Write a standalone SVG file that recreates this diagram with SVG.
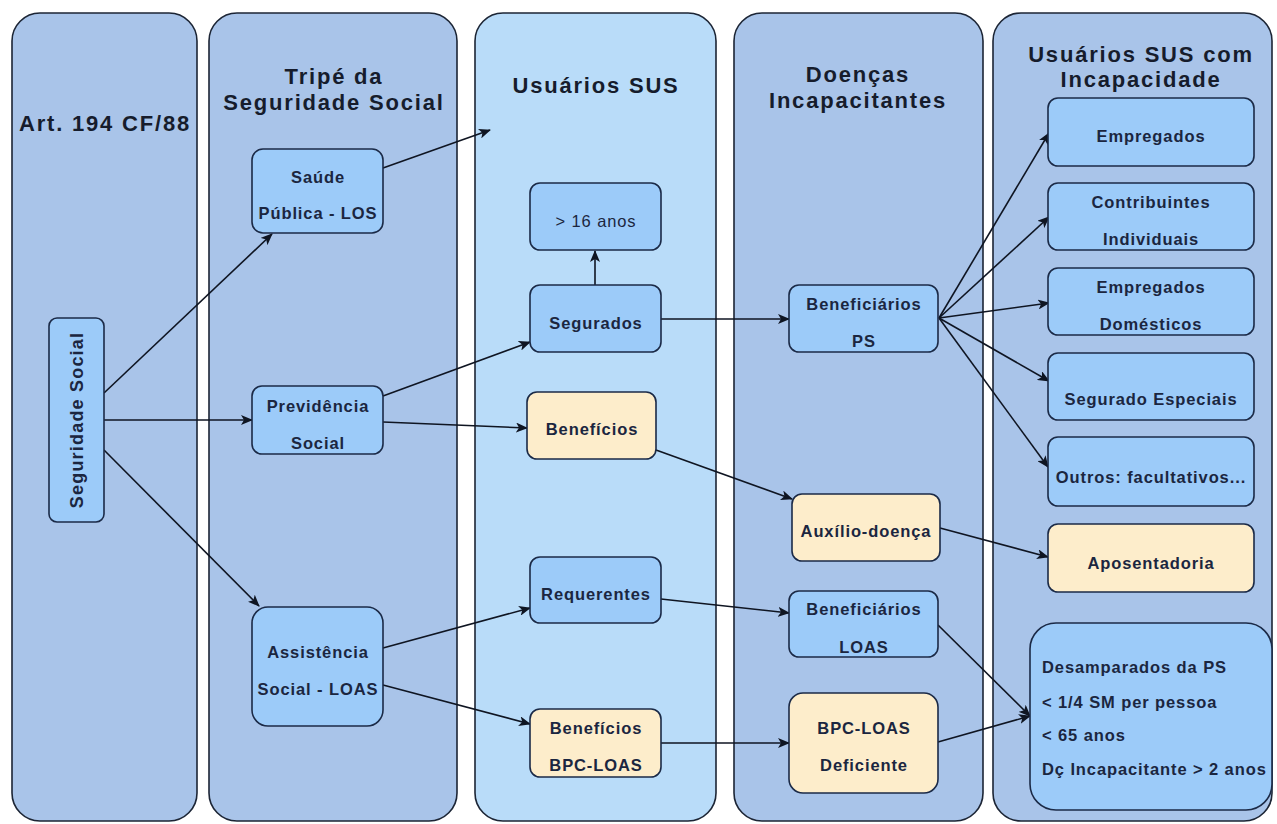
<svg xmlns="http://www.w3.org/2000/svg" width="1277" height="824" viewBox="0 0 1277 824">
<defs>
<marker id="arr" markerUnits="userSpaceOnUse" markerWidth="12" markerHeight="10" viewBox="0 0 12 10" refX="11" refY="5" orient="auto">
<path d="M0,0 L12,5 L0,10 L3,5 z" fill="#0f1522"/>
</marker>
<style>
.lane{fill:#a9c4e9;stroke:#1c2535;stroke-width:1.6}
.lane3{fill:#b9dcf9;stroke:#1c2535;stroke-width:1.6}
.title{font-family:"Liberation Sans",Arial,sans-serif;font-weight:bold;font-size:22px;letter-spacing:1.8px;fill:#161c2c;text-anchor:middle}
.nb{fill:#9ccbf9;stroke:#1b2a47;stroke-width:1.6}
.ny{fill:#fdedcb;stroke:#1b2a47;stroke-width:1.6}
.t{font-family:"Liberation Sans",Arial,sans-serif;font-weight:bold;font-size:16.5px;letter-spacing:0.9px;fill:#1b2640;text-anchor:middle}
.tn{font-weight:normal}
.tl{text-anchor:start}
.c{fill:none;stroke:#0f1522;stroke-width:1.6;marker-end:url(#arr)}
</style>
</defs>
<rect width="1277" height="824" fill="#ffffff"/>

<g id="lane-art194">
<rect class="lane" x="12" y="13" width="185" height="808" rx="28"/>
<text class="title" x="105" y="131">Art. 194 CF/88</text>
</g>
<g id="lane-tripe">
<rect class="lane" x="209" y="13" width="248" height="808" rx="28"/>
<text class="title" x="334" y="84">Tripé da</text>
<text class="title" x="334" y="110">Seguridade Social</text>
</g>
<g id="lane-usuarios">
<rect class="lane3" x="475" y="13" width="241" height="808" rx="28"/>
<text class="title" x="596" y="93">Usuários SUS</text>
</g>
<g id="lane-doencas">
<rect class="lane" x="734" y="13" width="249" height="808" rx="28"/>
<text class="title" x="858" y="82">Doenças</text>
<text class="title" x="858" y="108">Incapacitantes</text>
</g>
<g id="lane-incapacidade">
<rect class="lane" x="993" y="13" width="279" height="808" rx="28"/>
<text class="title" x="1141" y="62">Usuários SUS com</text>
<text class="title" x="1141" y="87">Incapacidade</text>
</g>

<g id="connectors">
<line class="c" x1="104" y1="393" x2="272" y2="234"/>
<line class="c" x1="104" y1="420" x2="252" y2="420"/>
<line class="c" x1="104" y1="450" x2="259" y2="606"/>
<line class="c" x1="383" y1="168" x2="490" y2="130"/>
<line class="c" x1="383" y1="396" x2="530" y2="342"/>
<line class="c" x1="383" y1="422" x2="527" y2="428"/>
<line class="c" x1="595" y1="285" x2="595" y2="251"/>
<line class="c" x1="661" y1="319" x2="789" y2="319"/>
<line class="c" x1="656" y1="450" x2="792" y2="499"/>
<line class="c" x1="940" y1="528" x2="1048" y2="557"/>
<line class="c" x1="383" y1="648" x2="530" y2="608"/>
<line class="c" x1="383" y1="685" x2="530" y2="724"/>
<line class="c" x1="661" y1="599" x2="789" y2="613"/>
<line class="c" x1="661" y1="743" x2="789" y2="743"/>
<line class="c" x1="938" y1="625" x2="1030" y2="716"/>
<line class="c" x1="938" y1="742" x2="1030" y2="716"/>
<line class="c" x1="939" y1="318" x2="1049" y2="133"/>
<line class="c" x1="939" y1="318" x2="1049" y2="217"/>
<line class="c" x1="939" y1="318" x2="1049" y2="303"/>
<line class="c" x1="939" y1="318" x2="1049" y2="381"/>
<line class="c" x1="939" y1="318" x2="1048" y2="467"/>
</g>

<g id="n-seguridade">
<rect class="nb" x="49" y="318" width="55" height="204" rx="8"/>
<text class="t" transform="translate(77,420) rotate(-90)" x="0" y="6" style="font-size:18px;letter-spacing:1.2px">Seguridade Social</text>
</g>
<g id="n-saude">
<rect class="nb" x="252" y="149" width="131" height="84" rx="11"/>
<text class="t" x="318" y="183">Saúde</text>
<text class="t" x="318" y="219">Pública - LOS</text>
</g>
<g id="n-previdencia">
<rect class="nb" x="252" y="386" width="131" height="68" rx="10"/>
<text class="t" x="318" y="412">Previdência</text>
<text class="t" x="318" y="449">Social</text>
</g>
<g id="n-assistencia">
<rect class="nb" x="252" y="607" width="131" height="119" rx="16"/>
<text class="t" x="318" y="658">Assistência</text>
<text class="t" x="318" y="695">Social - LOAS</text>
</g>
<g id="n-16anos">
<rect class="nb" x="530" y="183" width="131" height="67" rx="10"/>
<text class="t tn" x="596" y="227">&gt; 16 anos</text>
</g>
<g id="n-segurados">
<rect class="nb" x="530" y="285" width="131" height="67" rx="10"/>
<text class="t" x="596" y="329">Segurados</text>
</g>
<g id="n-beneficios">
<rect class="ny" x="527" y="392" width="129" height="67" rx="10"/>
<text class="t" x="592" y="435">Benefícios</text>
</g>
<g id="n-requerentes">
<rect class="nb" x="530" y="557" width="131" height="66" rx="10"/>
<text class="t" x="596" y="600">Requerentes</text>
</g>
<g id="n-beneficios-bpc">
<rect class="ny" x="530" y="709" width="131" height="68" rx="10"/>
<text class="t" x="596" y="734">Benefícios</text>
<text class="t" x="596" y="771">BPC-LOAS</text>
</g>
<g id="n-benef-ps">
<rect class="nb" x="789" y="285" width="149" height="67" rx="10"/>
<text class="t" x="864" y="310">Beneficiários</text>
<text class="t" x="864" y="347">PS</text>
</g>
<g id="n-auxilio">
<rect class="ny" x="792" y="494" width="148" height="67" rx="10"/>
<text class="t" x="866" y="537">Auxílio-doença</text>
</g>
<g id="n-benef-loas">
<rect class="nb" x="789" y="591" width="149" height="66" rx="10"/>
<text class="t" x="864" y="615">Beneficiários</text>
<text class="t" x="864" y="653">LOAS</text>
</g>
<g id="n-bpc-def">
<rect class="ny" x="789" y="693" width="149" height="100" rx="14"/>
<text class="t" x="864" y="734">BPC-LOAS</text>
<text class="t" x="864" y="771">Deficiente</text>
</g>
<g id="n-empregados">
<rect class="nb" x="1048" y="98" width="206" height="68" rx="10"/>
<text class="t" x="1151" y="142">Empregados</text>
</g>
<g id="n-contribuintes">
<rect class="nb" x="1048" y="183" width="206" height="67" rx="10"/>
<text class="t" x="1151" y="208">Contribuintes</text>
<text class="t" x="1151" y="245">Individuais</text>
</g>
<g id="n-domesticos">
<rect class="nb" x="1048" y="268" width="206" height="67" rx="10"/>
<text class="t" x="1151" y="293">Empregados</text>
<text class="t" x="1151" y="330">Domésticos</text>
</g>
<g id="n-especiais">
<rect class="nb" x="1048" y="353" width="206" height="67" rx="10"/>
<text class="t" x="1151" y="405">Segurado Especiais</text>
</g>
<g id="n-outros">
<rect class="nb" x="1048" y="437" width="206" height="69" rx="10"/>
<text class="t" x="1151" y="483">Outros: facultativos...</text>
</g>
<g id="n-aposentadoria">
<rect class="ny" x="1048" y="524" width="206" height="68" rx="10"/>
<text class="t" x="1151" y="569">Aposentadoria</text>
</g>
<g id="n-desamparados">
<rect class="nb" x="1030" y="623" width="242" height="187" rx="26"/>
<text class="t tl" x="1042" y="673">Desamparados da PS</text>
<text class="t tl" x="1042" y="708">&lt; 1/4 SM per pessoa</text>
<text class="t tl" x="1042" y="741">&lt; 65 anos</text>
<text class="t tl" x="1042" y="775">Dç Incapacitante &gt; 2 anos</text>
</g>
</svg>
